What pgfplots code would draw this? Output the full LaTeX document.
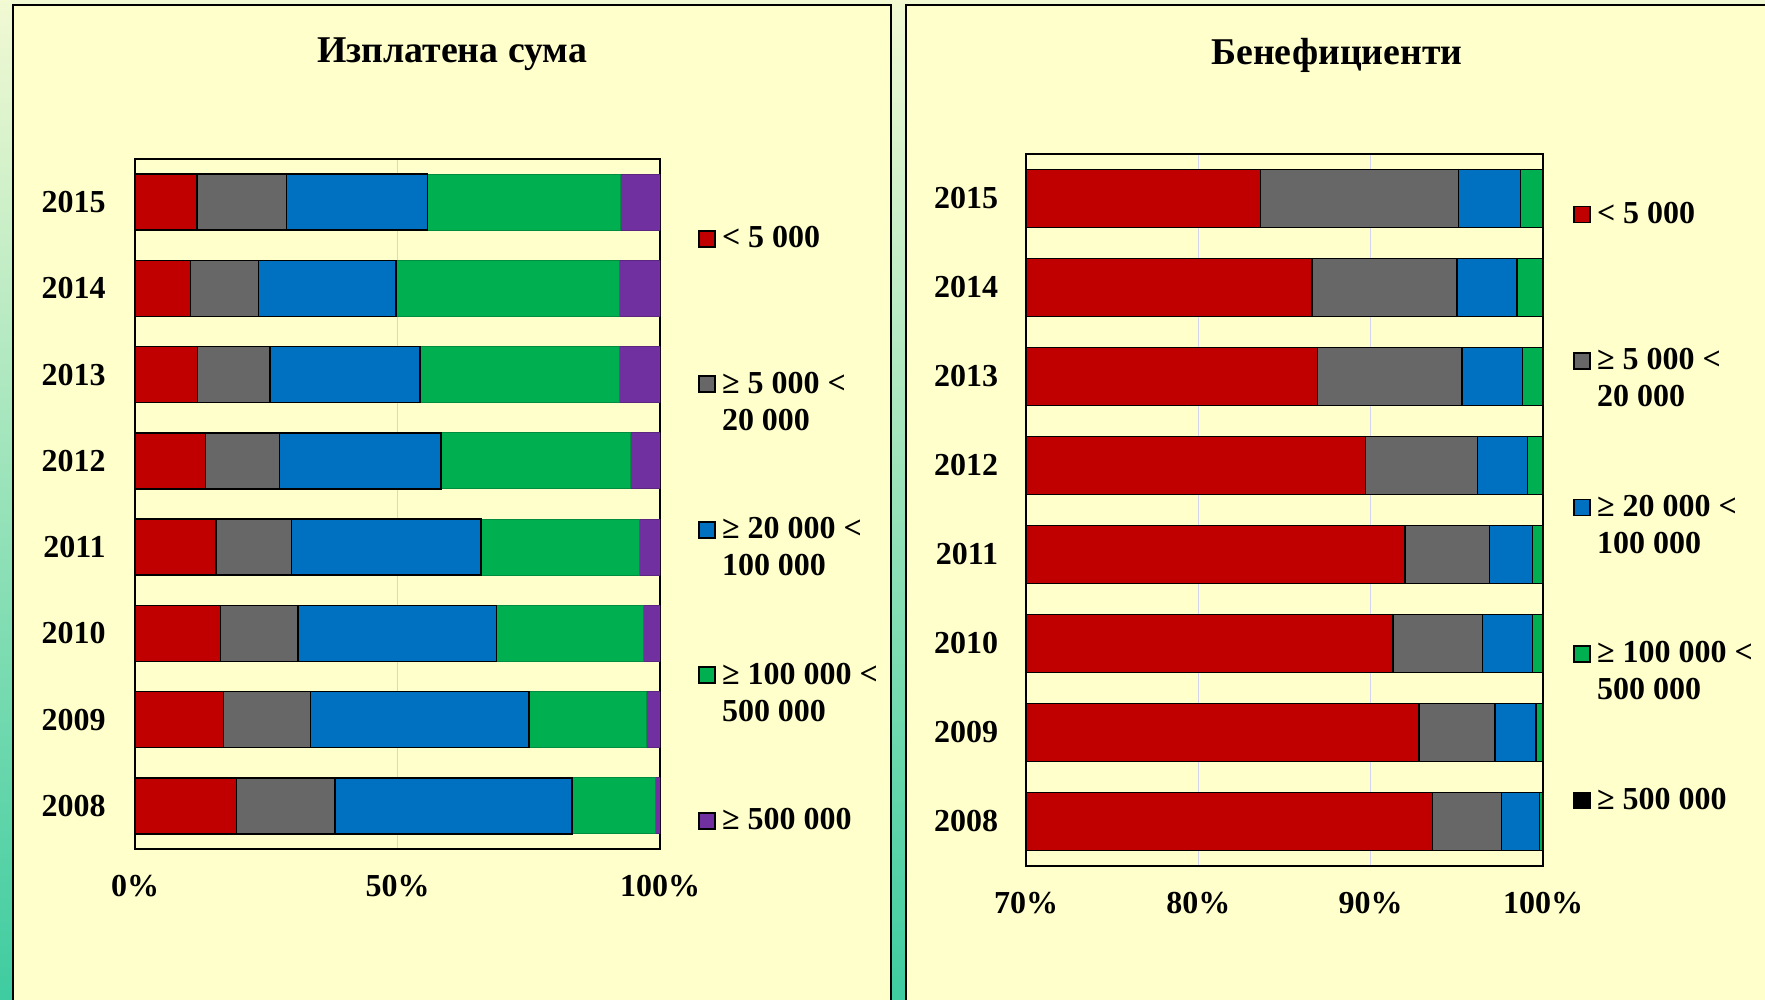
\documentclass[border=0pt]{standalone}
\usepackage{pgfplots}
\pgfplotsset{compat=1.18}
\usepackage{fontspec}
\setmainfont{Liberation Serif}
\definecolor{bgtop}{HTML}{F2F9D3}
\definecolor{bgbot}{HTML}{3ECCA0}
\definecolor{panel}{HTML}{FFFFCC}
\definecolor{cred}{HTML}{C00000}
\definecolor{cgray}{HTML}{676767}
\definecolor{cblue}{HTML}{0070C0}
\definecolor{cgreen}{HTML}{00B050}
\definecolor{cpurple}{HTML}{7030A0}
\definecolor{gridc}{HTML}{D4D4EC}
\pgfplotsset{
  mybars/.style={
    xbar stacked, scale only axis, anchor=south west,
    bar width=0.65,
    ymin=2007.5, ymax=2015.5, enlarge y limits=false, enlarge x limits=false,
    ytick={2008,2009,2010,2011,2012,2013,2014,2015},
    yticklabels={2008,2009,2010,2011,2012,2013,2014,2015},
    major tick length=0pt,
    axis line style={line width=1pt},
    xmajorgrids, grid style={gridc, line width=0.6pt},
    yticklabel style={font=\fontsize{16}{19}\selectfont\bfseries, anchor=east, inner sep=0pt},
    xticklabel style={font=\fontsize{16}{19}\selectfont\bfseries, anchor=north, inner sep=0pt, yshift=-13pt},
    title style={font=\fontsize{18.9}{23}\selectfont\bfseries, anchor=center, yshift=0pt},
    /pgf/number format/assume math mode=true,
    legend image code/.code={\draw[##1, draw=black, line width=0.8pt] (0pt,0.4pt) rectangle (8pt,8.4pt);},
    legend style={draw=none, fill=none, inner sep=0pt, outer sep=0pt,
      anchor=north west,
      font=\fontsize{16}{18.5}\selectfont\bfseries,
      nodes={inner sep=0pt, text height=12pt, text depth=24pt},
      cells={anchor=base west},
      /tikz/every odd column/.append style={column sep=3.2pt}},
  },
  bstyle/.style={fill=#1, draw=black, line width=0.75pt},
  bstyleb/.style={fill=#1, draw=#1!80!black, line width=0.5pt},
}
\begin{document}
\begin{tikzpicture}[x=1pt,y=1pt]
\useasboundingbox (0,0) rectangle (882.5,500);
\shade[top color=bgtop, bottom color=bgbot] (0,0) rectangle (882.5,500);
\begin{scope}
\clip (0,0) rectangle (882.5,500);
\fill[panel] (6.5,-10) rectangle (445.5,497.5);
\draw[line width=1pt] (6.5,-10) rectangle (445.5,497.5);
\fill[panel] (453,-10) rectangle (900,497.5);
\draw[line width=1pt] (453,-10) rectangle (900,497.5);
\end{scope}

% Left chart
\begin{axis}[mybars,
  at={(67.5pt,75.5pt)}, width=262.5pt, height=345pt,
  xmin=0, xmax=100,
  xtick={0,50,100}, xticklabels={0\%,50\%,100\%},
  yticklabel style={xshift=-14.5pt},
  title={Изплатена сума}, title style={at={(0.604,1.134)}},
  legend style={at={(1.0724,0.9065)}, row sep=36.75pt},
]
\addplot[bstyle=cred] coordinates {(11.8,2015) (10.6,2014) (11.9,2013) (13.4,2012) (15.4,2011) (16.3,2010) (16.9,2009) (19.3,2008)};
\addlegendentry{< 5 000}
\addplot[bstyle=cgray] coordinates {(17.1,2015) (12.9,2014) (13.8,2013) (14.1,2012) (14.4,2011) (14.7,2010) (16.5,2009) (18.8,2008)};
\addlegendentry{\begin{tabular}[t]{@{}l@{}}≥ 5 000 <\\20 000\end{tabular}}
\addplot[bstyle=cblue] coordinates {(26.8,2015) (26.2,2014) (28.6,2013) (30.8,2012) (36.1,2011) (37.9,2010) (41.6,2009) (45.1,2008)};
\addlegendentry{\begin{tabular}[t]{@{}l@{}}≥ 20 000 <\\100 000\end{tabular}}
\addplot[bstyleb=cgreen] coordinates {(36.8,2015) (42.5,2014) (38.0,2013) (36.0,2012) (30.2,2011) (28.0,2010) (22.4,2009) (16.0,2008)};
\addlegendentry{\begin{tabular}[t]{@{}l@{}}≥ 100 000 <\\500 000\end{tabular}}
\addplot[bstyleb=cpurple] coordinates {(7.5,2015) (7.8,2014) (7.7,2013) (5.7,2012) (3.9,2011) (3.1,2010) (2.6,2009) (0.8,2008)};
\addlegendentry{≥ 500 000}
\end{axis}

% Right chart
\begin{axis}[mybars,
  at={(513pt,67pt)}, width=258.5pt, height=356pt,
  xmin=70, xmax=100,
  xtick={70,80,90,100}, xticklabels={70\%,80\%,90\%,100\%},
  yticklabel style={xshift=-13.75pt},
  title={Бенефициенти}, title style={at={(0.6015,1.122)}},
  legend style={at={(1.058,0.9364)}, row sep=37.25pt},
]
\addplot[bstyle=cred] coordinates {(83.6,2015) (86.6,2014) (86.9,2013) (89.7,2012) (92.0,2011) (91.3,2010) (92.8,2009) (93.6,2008)};
\addlegendentry{< 5 000}
\addplot[bstyle=cgray] coordinates {(11.5,2015) (8.4,2014) (8.4,2013) (6.5,2012) (4.9,2011) (5.2,2010) (4.4,2009) (4.0,2008)};
\addlegendentry{\begin{tabular}[t]{@{}l@{}}≥ 5 000 <\\20 000\end{tabular}}
\addplot[bstyle=cblue] coordinates {(3.6,2015) (3.5,2014) (3.5,2013) (2.9,2012) (2.5,2011) (2.9,2010) (2.4,2009) (2.2,2008)};
\addlegendentry{\begin{tabular}[t]{@{}l@{}}≥ 20 000 <\\100 000\end{tabular}}
\addplot[bstyle=cgreen] coordinates {(1.3,2015) (1.5,2014) (1.2,2013) (0.9,2012) (0.6,2011) (0.6,2010) (0.4,2009) (0.2,2008)};
\addlegendentry{\begin{tabular}[t]{@{}l@{}}≥ 100 000 <\\500 000\end{tabular}}
\addplot[bstyle=black] coordinates {(0,2015) (0,2014) (0,2013) (0,2012) (0,2011) (0,2010) (0,2009) (0,2008)};
\addlegendentry{≥ 500 000}
\end{axis}
\end{tikzpicture}
\end{document}
